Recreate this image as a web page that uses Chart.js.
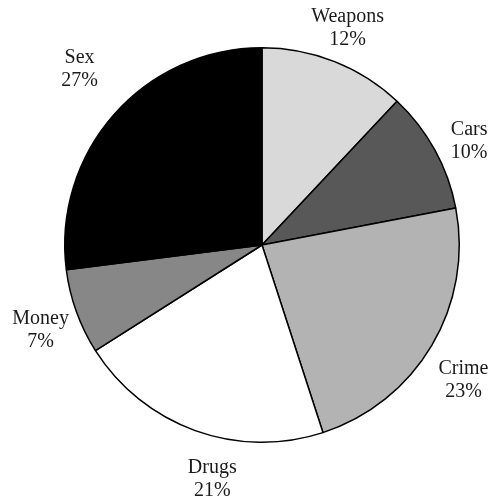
<!DOCTYPE html>
<html lang="en">
<head>
    <meta charset="UTF-8">
    <title>Pie</title>
    <script src="https://cdn.jsdelivr.net/npm/chart.js"></script>
    <style>
        html, body { margin: 0; padding: 0; background: #fff; }
        #wrap { width: 490px; height: 498px; }
    </style>
</head>
<body>
    <div id="wrap"><canvas id="pie"></canvas></div>
    <script>
        const labels = ['Weapons', 'Cars', 'Crime', 'Drugs', 'Money', 'Sex'];
        const shares = [12, 10, 23, 21, 7, 27];
        const fills = ['#d9d9d9', '#585858', '#b3b3b3', '#ffffff', '#878787', '#000000'];

        // labels outside each slice, two lines: name and percent
        const outsideLabels = {
            id: 'outsideLabels',
            afterDatasetsDraw(chart) {
                const ctx = chart.ctx;
                const meta = chart.getDatasetMeta(0);
                // hand nudges so the labels sit where the original put them
                const nudge = [[-1, 1], [1, 9], [-1, 15], [30, 12], [0, 5], [-6, -21]];
                ctx.save();
                ctx.fillStyle = '#1a1a1a';
                ctx.font = '20px "Liberation Serif", serif';
                ctx.textAlign = 'center';
                ctx.textBaseline = 'middle';
                meta.data.forEach((arc, i) => {
                    const p = arc.getProps(['x', 'y', 'startAngle', 'endAngle', 'outerRadius'], true);
                    const mid = (p.startAngle + p.endAngle) / 2;
                    const r = p.outerRadius + 38;
                    const x = p.x + Math.cos(mid) * r + nudge[i][0];
                    const y = p.y + Math.sin(mid) * r + nudge[i][1];
                    ctx.fillText(labels[i], x, y - 11);
                    ctx.fillText(shares[i] + '%', x, y + 12);
                });
                ctx.restore();
            }
        };

        new Chart(document.getElementById('pie'), {
            type: 'pie',
            data: {
                labels: labels,
                datasets: [{
                    data: shares,
                    backgroundColor: fills,
                    borderColor: '#000',
                    borderWidth: 1.5
                }]
            },
            options: {
                responsive: true,
                maintainAspectRatio: false,
                animation: false,
                layout: { padding: { left: 64, right: 30, top: 47, bottom: 55 } },
                plugins: {
                    legend: { display: false },
                    tooltip: { enabled: false }
                }
            },
            plugins: [outsideLabels]
        });
    </script>
</body>
</html>
